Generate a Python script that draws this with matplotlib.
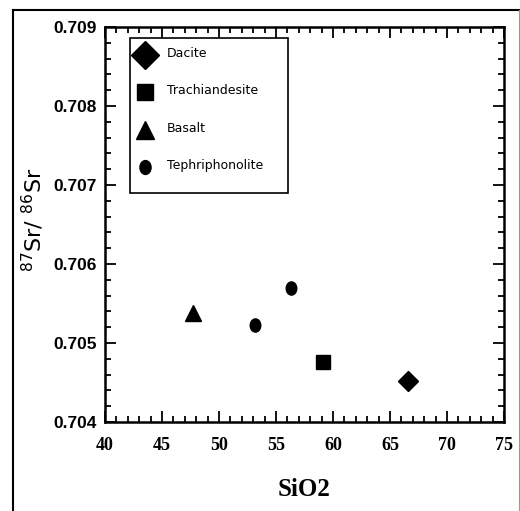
import matplotlib
matplotlib.use("Agg")
import matplotlib.pyplot as plt
from matplotlib.lines import Line2D
from matplotlib.patches import Rectangle
from matplotlib.path import Path
from matplotlib.transforms import Affine2D
from matplotlib.ticker import MultipleLocator, FormatStrFormatter

# Data
rock_types = ["Dacite", "Trachiandesite", "Basalt", "Tephriphonolite"]
sio2 = {"Dacite": [66.6], "Trachiandesite": [59.1], "Basalt": [47.7], "Tephriphonolite": [53.2, 56.3]}
sr_ratio = {"Dacite": [0.70452], "Trachiandesite": [0.70476], "Basalt": [0.70538],
            "Tephriphonolite": [0.70523, 0.70570]}
x_ticks = [40, 45, 50, 55, 60, 65, 70, 75]
y_ticks = [0.704, 0.705, 0.706, 0.707, 0.708, 0.709]

# slightly tall oval like the reference's dots
oval = Path.unit_circle().transformed(Affine2D().scale(1.0, 1.25))
markers = {"Dacite": "D", "Trachiandesite": "s", "Basalt": "^", "Tephriphonolite": oval}
sizes = {"Dacite": 10, "Trachiandesite": 10, "Basalt": 11, "Tephriphonolite": 9.5}
leg_sizes = {"Dacite": 14, "Trachiandesite": 11, "Basalt": 13, "Tephriphonolite": 10}

fig = plt.figure(figsize=(5.2, 5.11), dpi=100)
W, H = 520, 511
AX_L, AX_R, AX_T, AX_B = 105, 504, 27, 422
ax = fig.add_axes([AX_L / W, 1 - AX_B / H, (AX_R - AX_L) / W, (AX_B - AX_T) / H])

for rt in rock_types:
    ax.plot(sio2[rt], sr_ratio[rt], linestyle="none", marker=markers[rt], color="black",
            markersize=sizes[rt])

ax.set_xlim(40, 75)
ax.set_ylim(0.704, 0.709)
ax.set_xticks(x_ticks)
ax.set_yticks(y_ticks)
ax.xaxis.set_minor_locator(MultipleLocator(1))
ax.yaxis.set_minor_locator(MultipleLocator(0.0002))
ax.yaxis.set_major_formatter(FormatStrFormatter("%.3f"))
ax.tick_params(which="both", direction="in", top=True, right=True, width=1.3)
ax.tick_params(which="major", length=8)
ax.tick_params(which="minor", length=4)
ax.tick_params(axis="x", which="major", pad=11)
ax.tick_params(axis="y", which="major", pad=6)
for lab in ax.get_xticklabels():
    lab.set_fontfamily("Liberation Serif")
    lab.set_fontweight("bold")
    lab.set_fontsize(13)
for lab in ax.get_yticklabels():
    lab.set_fontfamily("Liberation Sans")
    lab.set_fontweight("bold")
    lab.set_fontsize(12.5)
for s in ax.spines.values():
    s.set_linewidth(1.8)

ax.set_xlabel("SiO2", fontfamily="Liberation Serif", fontweight="bold", fontsize=18)
ax.xaxis.set_label_coords(0.5, -(490 - AX_B) / (AX_B - AX_T), transform=ax.transAxes)
ax.xaxis.label.set_va("center")
ax.set_ylabel(r"$^{87}$Sr/ $^{86}$Sr", fontsize=16)
ax.yaxis.set_label_coords(-(AX_L - 33) / (AX_R - AX_L), (AX_B - 220) / (AX_B - AX_T))
ax.yaxis.label.set_va("center")


# Legend drawn as a boxed key (pixel layout converted to axes fraction)
def fx(px):
    return (px - AX_L) / (AX_R - AX_L)


def fy(py):
    return (AX_B - py) / (AX_B - AX_T)


ax.add_patch(Rectangle((fx(130), fy(193)), fx(288) - fx(130), fy(38) - fy(193),
                       transform=ax.transAxes, facecolor="white", edgecolor="black",
                       linewidth=1.2, zorder=5))
row_y = [55, 92, 130, 167]
for rt, py in zip(rock_types, row_y):
    ax.plot([fx(145)], [fy(py)], transform=ax.transAxes, linestyle="none", marker=markers[rt],
            color="black", markersize=leg_sizes[rt], zorder=6, clip_on=False)
    ax.text(fx(167), fy(py - 2), rt, transform=ax.transAxes, fontfamily="DejaVu Sans",
            fontsize=9, va="center", ha="left", zorder=6)

# Outer frame
fig.add_artist(Line2D([13 / W, 13 / W], [0, 1 - 10 / H], transform=fig.transFigure,
                      color="black", linewidth=1.5))
fig.add_artist(Line2D([13 / W, 519 / W], [1 - 10 / H, 1 - 10 / H], transform=fig.transFigure,
                      color="black", linewidth=1.5))
fig.add_artist(Line2D([519 / W, 519 / W], [0, 1 - 10 / H], transform=fig.transFigure,
                      color="#999999", linewidth=0.8))

fig.savefig("out.png", dpi=100)
